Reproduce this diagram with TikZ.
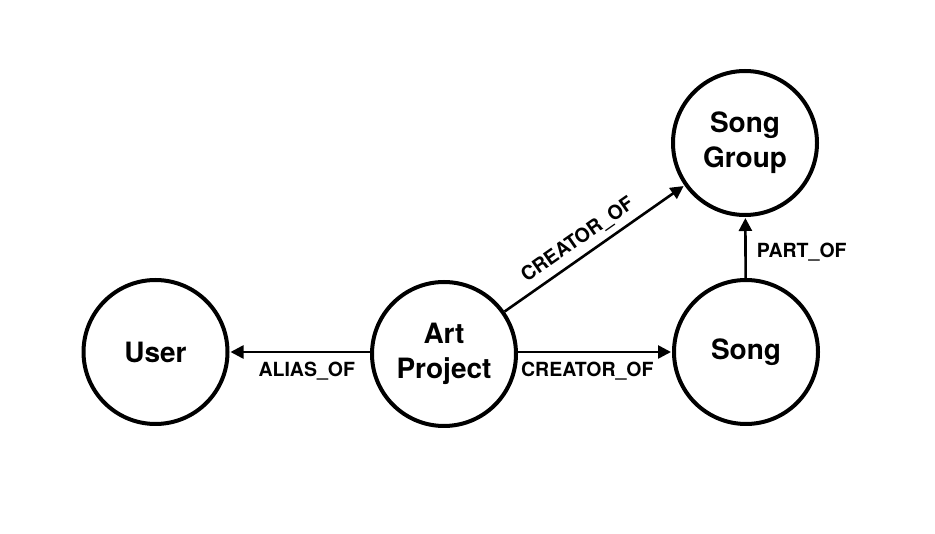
\documentclass[tikz,border=0pt]{standalone}
\usepackage{fontspec}
\setmainfont{TeX Gyre Heros}
\usetikzlibrary{arrows.meta}
\begin{document}
\begin{tikzpicture}[x=1pt,y=-1pt,
  entity/.style={circle,draw=black,line width=4pt,minimum size=144pt,inner sep=0pt,
    align=center,font=\bfseries\fontsize{28}{35}\selectfont},
  rel/.style={line width=2.6pt,-{Triangle[length=13pt,width=13pt]},shorten >=1pt},
  lbl/.style={font=\bfseries\fontsize{19.5}{21}\selectfont,inner sep=2pt}]
\useasboundingbox (0,0) rectangle (935,534);
\node[entity] (user) at (155.5,352) {User};
\node[entity] (art) at (444,354) {Art\\Project};
\node[entity] (song) at (746,352) {Song};
\node[entity] (group) at (745,143) {Song\\Group};
\draw[rel] (art.west |- user) -- node[lbl,below=7pt,pos=0.45] {ALIAS\_OF} (user);
\draw[rel] (art.east |- song) -- node[lbl,below=7pt,pos=0.45] {CREATOR\_OF} (song);
\draw[rel] (art) -- node[lbl,sloped,above=4pt,pos=0.46] {CREATOR\_OF} (group);
\draw[rel] (song) -- node[lbl,right=8pt,pos=0.42] {PART\_OF} (group);
\end{tikzpicture}
\end{document}
